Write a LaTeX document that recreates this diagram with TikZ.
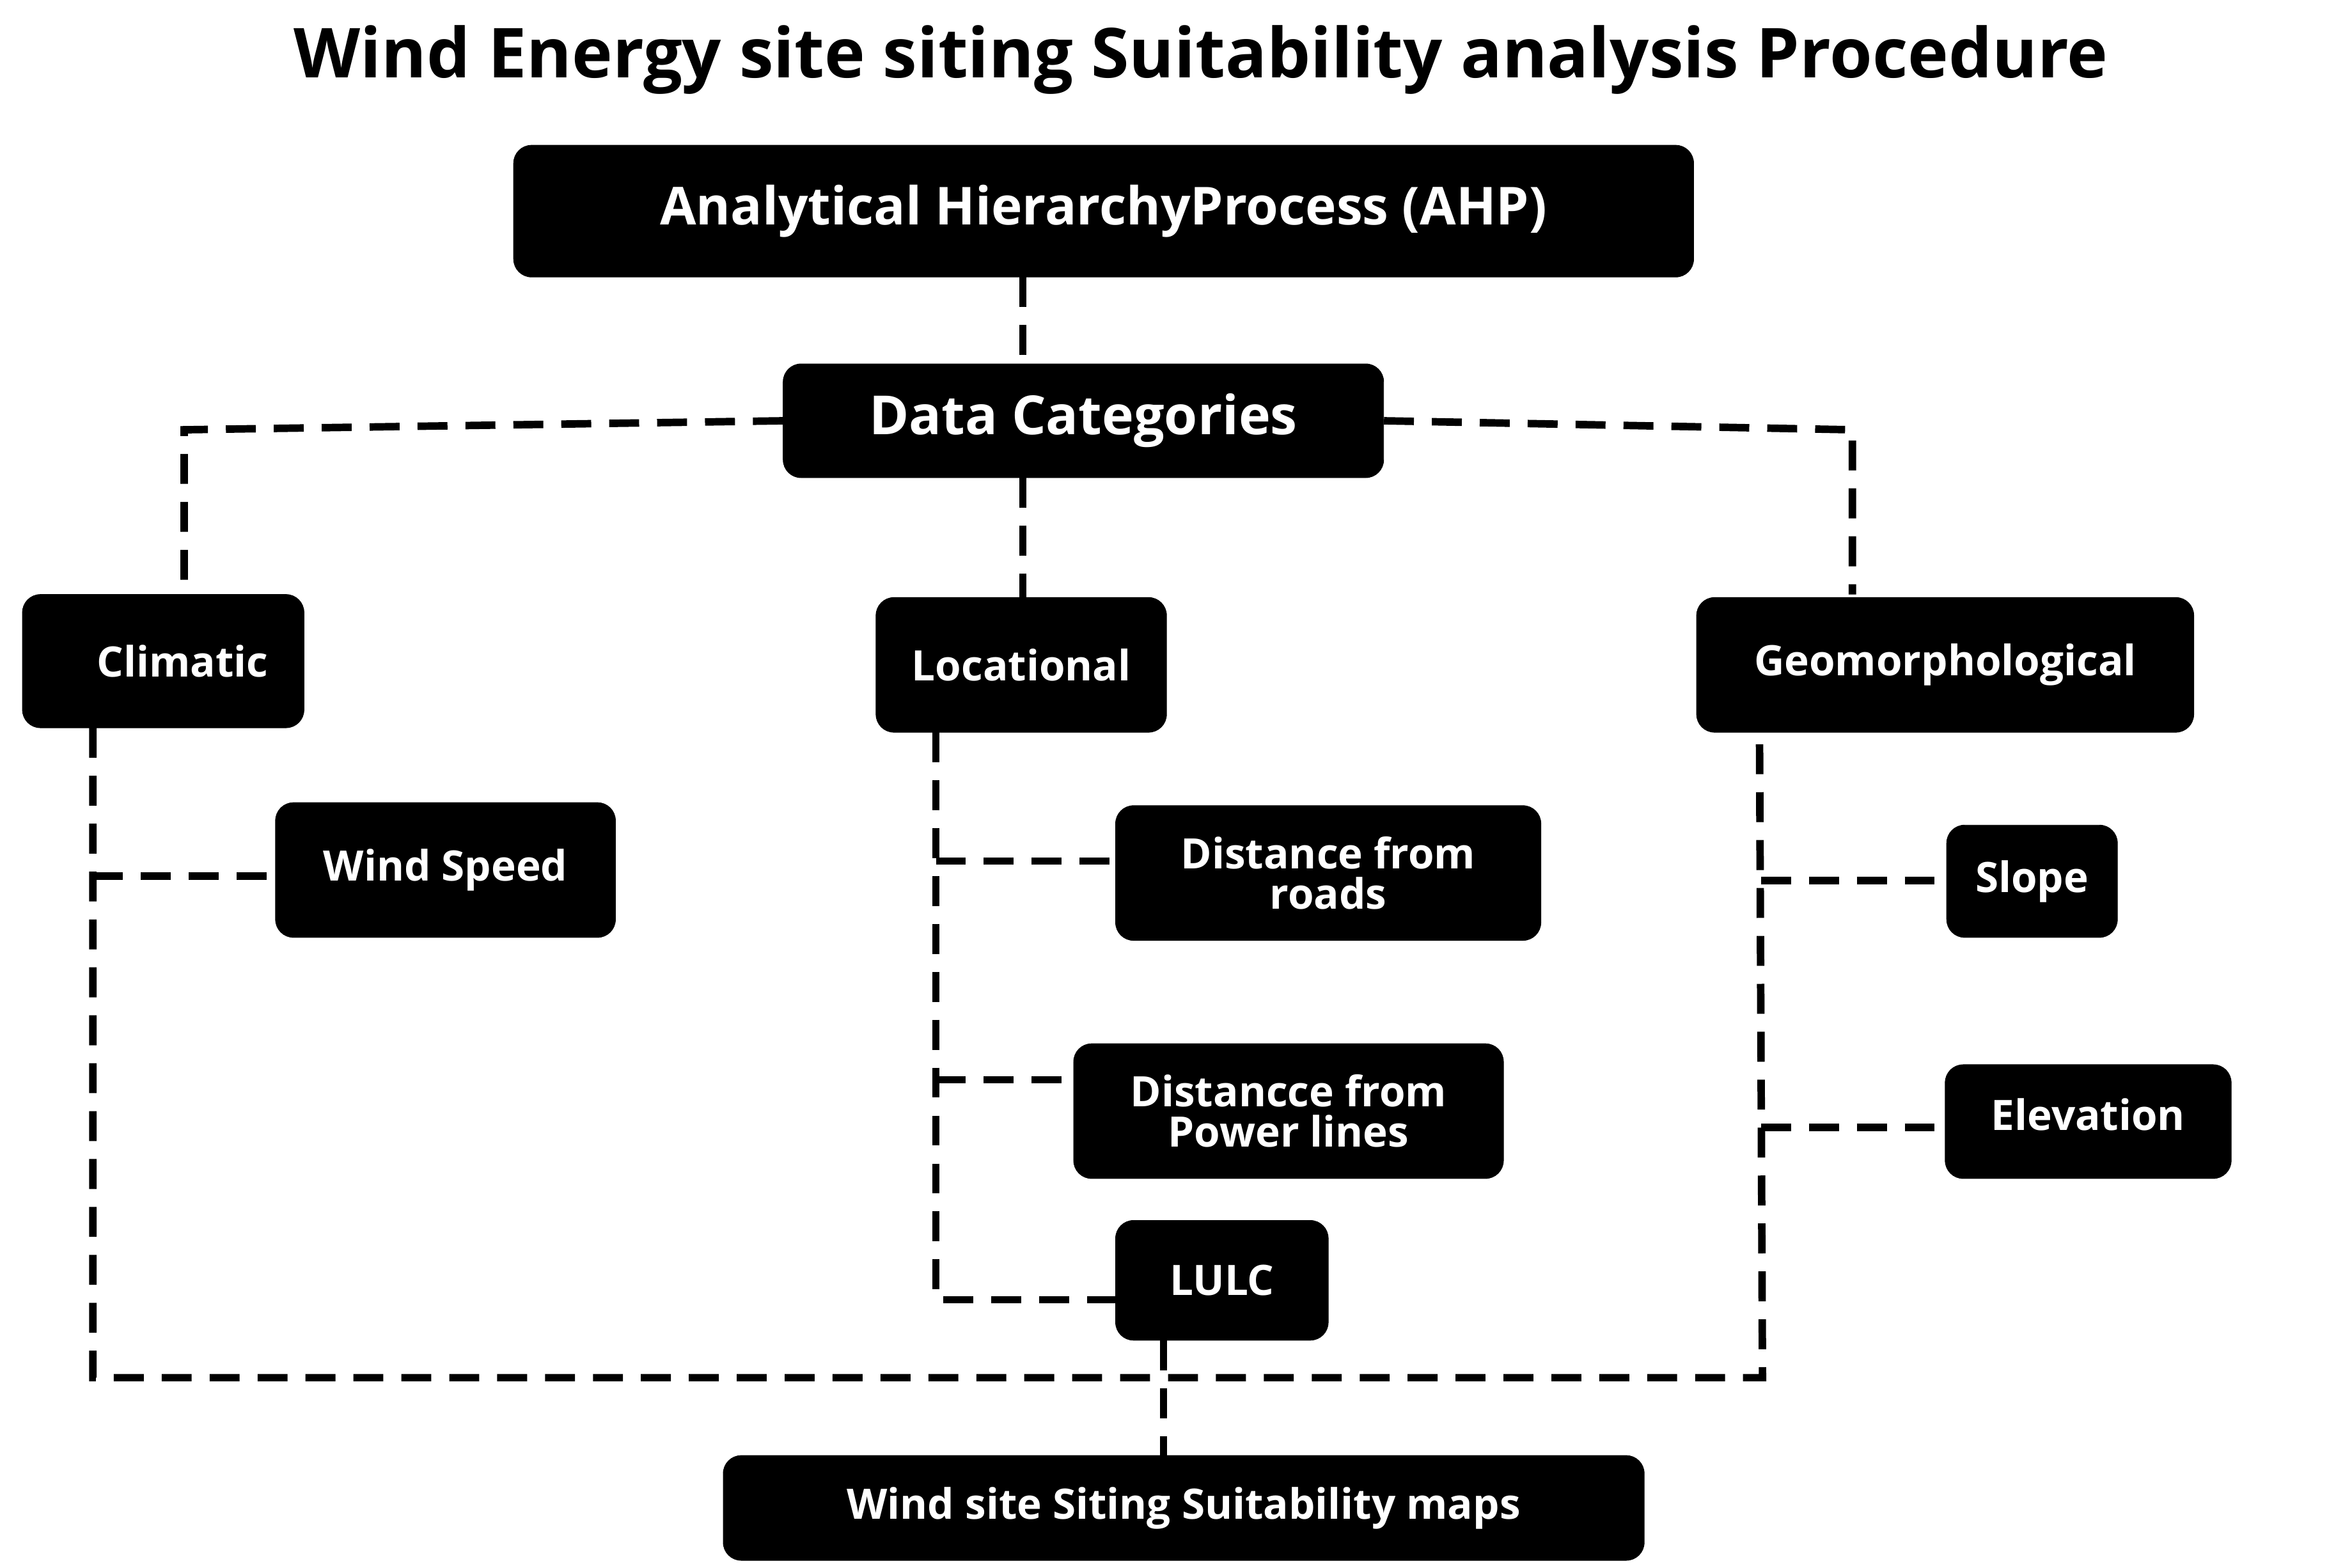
\documentclass[tikz,border=0pt]{standalone}
\usepackage{fontspec}
\setmainfont{Open Sans}
\begin{document}
\begin{tikzpicture}[x=1pt,y=-1pt,
  bx/.style={fill=black,draw=black,rounded corners=12pt,text=white,font=\bfseries\fontsize{28}{27}\selectfont,align=center,inner sep=0pt},
  ln/.style={line width=5pt,dash pattern=on 20pt off 12pt}]
\useasboundingbox (0,0) rectangle (1560,1047);
\node[font=\bfseries\fontsize{46}{50}\selectfont] (title) at (802,40) {Wind Energy site siting Suitability analysis Procedure};
\newcommand{\bxn}[6]{\node[bx,minimum width=#4-#2,minimum height=#5-#3] (#1) at ({(#2+#4)/2},{(#3+#5)/2}) {#6};}
\bxn{ahp}{343}{97}{1131}{185}{\fontsize{35}{38}\selectfont Analytical HierarchyProcess (AHP)}
\bxn{dc}{523}{243}{924}{319}{\fontsize{36}{38}\selectfont Data Categories}
\bxn{cli}{15}{397}{203}{486}{\hspace*{26pt}Climatic}
\bxn{loc}{585}{399}{779}{489}{Locational}
\bxn{geo}{1133}{399}{1465}{489}{Geomorphological}
\bxn{ws}{184}{536}{411}{626}{Wind Speed}
\bxn{dr}{745}{538}{1029}{628}{Distance from\\roads}
\bxn{dp}{717}{697}{1004}{787}{Distancce from\\Power lines}
\bxn{lulc}{745}{815}{887}{895}{LULC}
\bxn{sl}{1300}{551}{1414}{626}{Slope}
\bxn{el}{1299}{711}{1490}{787}{\raisebox{10pt}{Elevation}}
\bxn{fin}{483}{972}{1098}{1042}{Wind site Siting Suitability maps}
\coordinate (j) at (777,920);
\draw[ln] (683,185) -- (683,243);
\draw[ln] (dc.west) -- (123,287) -- (123,397);
\draw[ln] (dc.east) -- (1237,287) -- (1237,397);
\draw[ln] (683,319) -- (683,399);
\draw[ln] (62,486) -- (62,920) -- (1177,920) -- (1175,489);
\draw[ln] (62,585) -- (ws.west |- 0,585);
\draw[ln] (625,489) -- (625,868) -- (lulc.west |- 0,868);
\draw[ln] (625,575) -- (dr.west |- 0,575);
\draw[ln] (625,721) -- (dp.west |- 0,721);
\draw[ln] (1176,588) -- (sl.west |- 0,588);
\draw[ln] (1176,753) -- (el.west |- 0,753);
\draw[ln] (lulc.south -| j) -- (j) -- (fin.north -| j);
\end{tikzpicture}
\end{document}
